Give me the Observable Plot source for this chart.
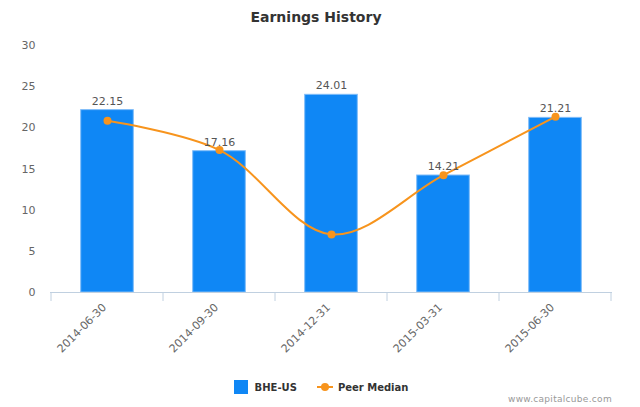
<!DOCTYPE html>
<html>
<head>
<meta charset="utf-8">
<script src="https://cdn.jsdelivr.net/npm/d3@7"></script>
<script src="https://cdn.jsdelivr.net/npm/@observablehq/plot@0.6"></script>
<style>
  body { margin: 0; background: #fff; font-family: "DejaVu Sans", sans-serif; }
  #wrap { position: relative; width: 640px; height: 407px; overflow: hidden; }
  #title { height: 35px; line-height: 35px; text-align: center; font-size: 14px; font-weight: bold; color: #333; padding-right: 8px; box-sizing: border-box; }
  #legend { position: absolute; left: 0; top: 380px; width: 640px; display: flex; justify-content: center; align-items: center; font-size: 10px; font-weight: bold; color: #333; padding-left: 2px; box-sizing: border-box; }
  .sw { width: 14px; height: 14px; background: #0f87f5; margin-right: 7px; }
  .ln { position: relative; width: 16px; height: 14px; margin-left: 20px; margin-right: 5px; }
  .ln::before { content: ""; position: absolute; left: 0; right: 0; top: 6px; height: 2px; background: #f7941d; }
  .ln::after { content: ""; position: absolute; left: 4px; top: 3px; width: 8px; height: 8px; border-radius: 50%; background: #f7941d; }
  #credit { position: absolute; right: 28px; top: 394px; font-size: 9px; color: #999; letter-spacing: 0.3px; }
</style>
</head>
<body>
<div id="wrap">
  <div id="title">Earnings History</div>
  <div id="chart"></div>
  <div id="legend"><span class="sw"></span><span>BHE-US</span><span class="ln"></span><span>Peer Median</span></div>
  <div id="credit">www.capitalcube.com</div>
</div>
<script>
const periods = ["2014-06-30", "2014-09-30", "2014-12-31", "2015-03-31", "2015-06-30"];
const bheValues = [22.15, 17.16, 24.01, 14.21, 21.21];
const peerMedian = [20.85, 17.3, 7.05, 14.25, 21.35];
const yTicks = [0, 5, 10, 15, 20, 25, 30];

const bars = periods.map((p, i) => ({period: p, value: bheValues[i]}));
const peers = periods.map((p, i) => ({period: p, value: peerMedian[i]}));

const W = 640, H = 335, mL = 50, mR = 28, mT = 10, mB = 78;
const bw = (W - mL - mR) / periods.length;
const inset = (bw - 53) / 2;

const plot = Plot.plot({
  width: W, height: H,
  marginLeft: mL, marginRight: mR, marginTop: mT, marginBottom: mB,
  style: {fontFamily: "DejaVu Sans, sans-serif", fontSize: "11px", color: "#666", background: "#fff"},
  x: {type: "band", domain: periods, padding: 0},
  y: {domain: [0, 30]},
  marks: [
    Plot.barY(bars, {x: "period", y: "value", fill: "#0f87f5", stroke: "#7fbcf8", strokeWidth: 1, insetLeft: inset, insetRight: inset}),
    Plot.ruleY([0], {stroke: "#c0d0e0", strokeWidth: 1}),
    Plot.line(peers, {x: "period", y: "value", stroke: "#f7941d", strokeWidth: 2, curve: "catmull-rom"}),
    Plot.dot(peers, {x: "period", y: "value", fill: "#f7941d", r: 4}),
    Plot.text(bars, {x: "period", y: "value", text: d => d.value.toFixed(2), dy: -9, fill: "#555", fontSize: 11}),
    Plot.axisY({ticks: yTicks, tickSize: 0, tickPadding: 15, label: null, fill: "#666"}),
    Plot.axisX({tickSize: 0, tickRotate: -45, tickPadding: 13, label: null, fill: "#666", dx: -3})
  ]
});

// boundary tick marks at band edges, positioned with the plot's x scale
const sx = plot.scale("x");
const svg = d3.select(plot);
const y0 = plot.scale("y").apply(0);
const edges = periods.map(p => sx.apply(p)).concat([sx.apply(periods[periods.length - 1]) + sx.bandwidth]);
svg.append("g").selectAll("line").data(edges).join("line")
  .attr("x1", d => d).attr("x2", d => d)
  .attr("y1", y0).attr("y2", y0 + 9)
  .attr("stroke", "#c0d0e0").attr("stroke-width", 1);

document.getElementById("chart").append(plot);
</script>
</body>
</html>
